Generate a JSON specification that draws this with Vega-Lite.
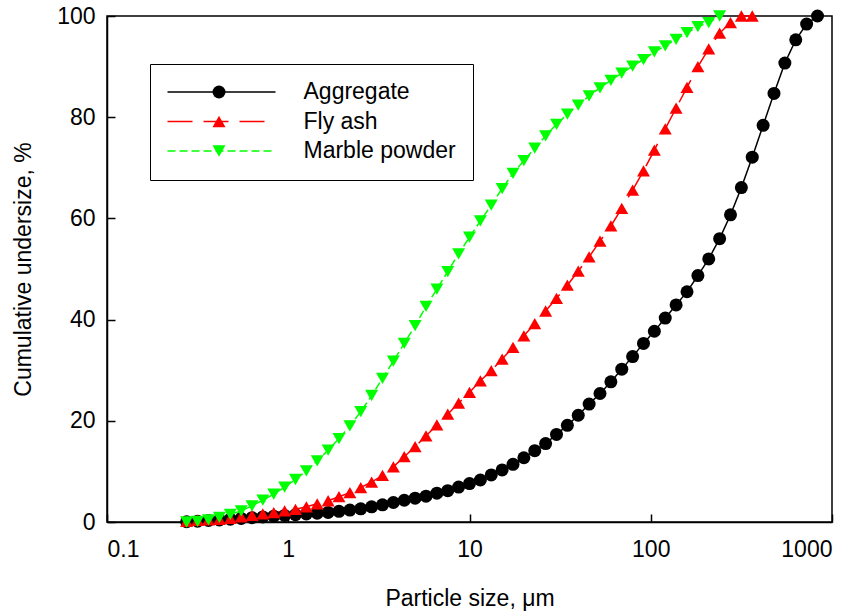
{
  "$schema": "https://vega.github.io/schema/vega-lite/v6.json",
  "width": 725,
  "height": 506,
  "autosize": {"type": "none"},
  "padding": {"left": 107, "top": 16, "right": 27, "bottom": 90},
  "background": "white",
  "config": {
    "font": "Liberation Sans",
    "view": {"stroke": "black", "strokeWidth": 1.5},
    "axis": {
      "domainColor": "black", "domainWidth": 1.5,
      "tickColor": "black", "tickWidth": 1.5,
      "grid": false,
      "labelFont": "Liberation Sans", "labelFontSize": 23, "labelColor": "black",
      "titleFont": "Liberation Sans", "titleFontSize": 23, "titleFontWeight": "normal", "titleColor": "black"
    },
    "legend": {"labelFont": "Liberation Sans", "labelFontSize": 23, "labelColor": "black"}
  },
  "data": {"values": [
    {"s":"Aggregate","d":0.275,"v":0.05},{"s":"Aggregate","d":0.316,"v":0.15},{"s":"Aggregate","d":0.363,"v":0.3},{"s":"Aggregate","d":0.417,"v":0.4},{"s":"Aggregate","d":0.479,"v":0.55},{"s":"Aggregate","d":0.55,"v":0.7},{"s":"Aggregate","d":0.631,"v":0.85},{"s":"Aggregate","d":0.724,"v":1.0},{"s":"Aggregate","d":0.832,"v":1.15},{"s":"Aggregate","d":0.955,"v":1.3},
    {"s":"Aggregate","d":1.096,"v":1.45},{"s":"Aggregate","d":1.259,"v":1.6},{"s":"Aggregate","d":1.445,"v":1.75},{"s":"Aggregate","d":1.66,"v":1.9},{"s":"Aggregate","d":1.905,"v":2.1},{"s":"Aggregate","d":2.188,"v":2.35},{"s":"Aggregate","d":2.512,"v":2.6},{"s":"Aggregate","d":2.884,"v":3.0},{"s":"Aggregate","d":3.311,"v":3.4},{"s":"Aggregate","d":3.802,"v":3.85},
    {"s":"Aggregate","d":4.365,"v":4.3},{"s":"Aggregate","d":5.012,"v":4.7},{"s":"Aggregate","d":5.754,"v":5.1},{"s":"Aggregate","d":6.607,"v":5.7},{"s":"Aggregate","d":7.586,"v":6.2},{"s":"Aggregate","d":8.71,"v":6.9},{"s":"Aggregate","d":10.0,"v":7.6},{"s":"Aggregate","d":11.48,"v":8.3},{"s":"Aggregate","d":13.18,"v":9.3},{"s":"Aggregate","d":15.14,"v":10.3},
    {"s":"Aggregate","d":17.38,"v":11.4},{"s":"Aggregate","d":19.95,"v":12.7},{"s":"Aggregate","d":22.91,"v":14.1},{"s":"Aggregate","d":26.3,"v":15.5},{"s":"Aggregate","d":30.2,"v":17.3},{"s":"Aggregate","d":34.67,"v":19.1},{"s":"Aggregate","d":39.81,"v":21.1},{"s":"Aggregate","d":45.71,"v":23.3},{"s":"Aggregate","d":52.48,"v":25.4},{"s":"Aggregate","d":60.26,"v":27.7},
    {"s":"Aggregate","d":69.18,"v":30.2},{"s":"Aggregate","d":79.43,"v":32.7},{"s":"Aggregate","d":91.2,"v":35.3},{"s":"Aggregate","d":104.7,"v":37.7},{"s":"Aggregate","d":120.2,"v":40.3},{"s":"Aggregate","d":138.0,"v":42.9},{"s":"Aggregate","d":158.5,"v":45.5},{"s":"Aggregate","d":182.0,"v":48.7},{"s":"Aggregate","d":208.9,"v":52.0},{"s":"Aggregate","d":239.9,"v":56.0},
    {"s":"Aggregate","d":275.4,"v":60.7},{"s":"Aggregate","d":316.2,"v":66.1},{"s":"Aggregate","d":363.1,"v":72.1},{"s":"Aggregate","d":416.9,"v":78.4},{"s":"Aggregate","d":478.6,"v":84.7},{"s":"Aggregate","d":549.5,"v":90.7},{"s":"Aggregate","d":631.0,"v":95.3},{"s":"Aggregate","d":724.4,"v":98.4},{"s":"Aggregate","d":831.8,"v":100},

    {"s":"Fly ash","d":0.275,"v":0.1},{"s":"Fly ash","d":0.316,"v":0.3},{"s":"Fly ash","d":0.363,"v":0.4},{"s":"Fly ash","d":0.417,"v":0.5},{"s":"Fly ash","d":0.479,"v":0.7},{"s":"Fly ash","d":0.55,"v":1.0},{"s":"Fly ash","d":0.631,"v":1.3},{"s":"Fly ash","d":0.724,"v":1.6},{"s":"Fly ash","d":0.832,"v":1.85},{"s":"Fly ash","d":0.955,"v":2.2},
    {"s":"Fly ash","d":1.096,"v":2.5},{"s":"Fly ash","d":1.259,"v":3.0},{"s":"Fly ash","d":1.445,"v":3.6},{"s":"Fly ash","d":1.66,"v":4.2},{"s":"Fly ash","d":1.905,"v":5.0},{"s":"Fly ash","d":2.188,"v":5.8},{"s":"Fly ash","d":2.512,"v":6.8},{"s":"Fly ash","d":2.884,"v":7.9},{"s":"Fly ash","d":3.311,"v":9.2},{"s":"Fly ash","d":3.802,"v":10.9},
    {"s":"Fly ash","d":4.365,"v":12.9},{"s":"Fly ash","d":5.012,"v":14.9},{"s":"Fly ash","d":5.754,"v":17.0},{"s":"Fly ash","d":6.607,"v":19.2},{"s":"Fly ash","d":7.586,"v":21.3},{"s":"Fly ash","d":8.71,"v":23.5},{"s":"Fly ash","d":10.0,"v":25.6},{"s":"Fly ash","d":11.48,"v":27.9},{"s":"Fly ash","d":13.18,"v":29.9},{"s":"Fly ash","d":15.14,"v":32.2},
    {"s":"Fly ash","d":17.38,"v":34.5},{"s":"Fly ash","d":19.95,"v":36.8},{"s":"Fly ash","d":22.91,"v":39.2},{"s":"Fly ash","d":26.3,"v":41.7},{"s":"Fly ash","d":30.2,"v":44.2},{"s":"Fly ash","d":34.67,"v":46.8},{"s":"Fly ash","d":39.81,"v":49.6},{"s":"Fly ash","d":45.71,"v":52.4},{"s":"Fly ash","d":52.48,"v":55.5},{"s":"Fly ash","d":60.26,"v":58.5},
    {"s":"Fly ash","d":69.18,"v":62.0},{"s":"Fly ash","d":79.43,"v":65.6},{"s":"Fly ash","d":91.2,"v":69.4},{"s":"Fly ash","d":104.7,"v":73.5},{"s":"Fly ash","d":120.2,"v":77.7},{"s":"Fly ash","d":138.0,"v":81.8},{"s":"Fly ash","d":158.5,"v":85.9},{"s":"Fly ash","d":182.0,"v":90.0},{"s":"Fly ash","d":208.9,"v":93.5},{"s":"Fly ash","d":239.9,"v":96.6},
    {"s":"Fly ash","d":275.4,"v":98.7},{"s":"Fly ash","d":316.2,"v":100},{"s":"Fly ash","d":363.1,"v":100},

    {"s":"Marble powder","d":0.275,"v":0.0},{"s":"Marble powder","d":0.316,"v":0.1},{"s":"Marble powder","d":0.363,"v":0.4},{"s":"Marble powder","d":0.417,"v":0.9},{"s":"Marble powder","d":0.479,"v":1.5},{"s":"Marble powder","d":0.55,"v":2.2},{"s":"Marble powder","d":0.631,"v":3.2},{"s":"Marble powder","d":0.724,"v":4.3},{"s":"Marble powder","d":0.832,"v":5.5},{"s":"Marble powder","d":0.955,"v":6.9},
    {"s":"Marble powder","d":1.096,"v":8.4},{"s":"Marble powder","d":1.259,"v":10.1},{"s":"Marble powder","d":1.445,"v":12.1},{"s":"Marble powder","d":1.66,"v":14.2},{"s":"Marble powder","d":1.905,"v":16.5},{"s":"Marble powder","d":2.188,"v":19.0},{"s":"Marble powder","d":2.512,"v":21.8},{"s":"Marble powder","d":2.884,"v":25.0},{"s":"Marble powder","d":3.311,"v":28.4},{"s":"Marble powder","d":3.802,"v":31.8},
    {"s":"Marble powder","d":4.365,"v":35.3},{"s":"Marble powder","d":5.012,"v":38.8},{"s":"Marble powder","d":5.754,"v":42.6},{"s":"Marble powder","d":6.607,"v":46.0},{"s":"Marble powder","d":7.586,"v":49.5},{"s":"Marble powder","d":8.71,"v":53.0},{"s":"Marble powder","d":10.0,"v":56.3},{"s":"Marble powder","d":11.48,"v":59.5},{"s":"Marble powder","d":13.18,"v":62.6},{"s":"Marble powder","d":15.14,"v":65.9},
    {"s":"Marble powder","d":17.38,"v":68.9},{"s":"Marble powder","d":19.95,"v":71.4},{"s":"Marble powder","d":22.91,"v":73.9},{"s":"Marble powder","d":26.3,"v":76.3},{"s":"Marble powder","d":30.2,"v":78.6},{"s":"Marble powder","d":34.67,"v":80.6},{"s":"Marble powder","d":39.81,"v":82.4},{"s":"Marble powder","d":45.71,"v":84.2},{"s":"Marble powder","d":52.48,"v":85.8},{"s":"Marble powder","d":60.26,"v":87.3},
    {"s":"Marble powder","d":69.18,"v":88.7},{"s":"Marble powder","d":79.43,"v":90.1},{"s":"Marble powder","d":91.2,"v":91.4},{"s":"Marble powder","d":104.7,"v":92.9},{"s":"Marble powder","d":120.2,"v":94.1},{"s":"Marble powder","d":138.0,"v":95.4},{"s":"Marble powder","d":158.5,"v":96.7},{"s":"Marble powder","d":182.0,"v":97.9},{"s":"Marble powder","d":208.9,"v":98.7},{"s":"Marble powder","d":239.9,"v":100}
  ]},
  "layer": [
    {
      "mark": {"type": "line", "strokeWidth": 1.5},
      "encoding": {
        "x": {"field": "d", "type": "quantitative",
              "scale": {"type": "log", "domain": [0.1, 1000]},
              "axis": {"values": [0.1, 1, 10, 100, 1000], "format": "~g", "tickSize": -8, "labelPadding": 24,
                       "title": "Particle size, μm", "titlePadding": 26}},
        "y": {"field": "v", "type": "quantitative",
              "scale": {"domain": [0, 100], "nice": false},
              "axis": {"values": [0, 20, 40, 60, 80, 100], "tickSize": -8, "labelPadding": 20,
                       "title": "Cumulative undersize, %", "titlePadding": 21}},
        "stroke": {"field": "s", "type": "nominal",
                   "scale": {"range": ["#000000", "#ff0000", "#00ff00"]},
                   "legend": {"orient": "none", "legendX": 43, "legendY": 48, "title": null, "padding": 16.5, "rowPadding": 5.5,
                              "clipHeight": 23, "labelOffset": 27, "symbolSize": 11664, "symbolStrokeWidth": 1.5, "symbolType": "stroke",
                              "strokeColor": "black", "zindex": 0}},
        "strokeDash": {"field": "s", "type": "nominal",
                       "scale": {"range": [[1, 0], [25, 11], [8, 4]]},
                       "legend": {"orient": "none", "legendX": 43, "legendY": 48, "title": null, "padding": 16.5, "rowPadding": 5.5,
                                  "clipHeight": 23, "labelOffset": 27, "symbolSize": 11664, "symbolStrokeWidth": 1.5, "symbolType": "stroke",
                                  "strokeColor": "black", "zindex": 0}}
      }
    },
    {
      "mark": {"type": "point", "filled": true, "opacity": 1, "strokeWidth": 0, "size": 169},
      "encoding": {
        "x": {"field": "d", "type": "quantitative", "scale": {"type": "log", "domain": [0.1, 1000]}},
        "y": {"field": "v", "type": "quantitative", "scale": {"domain": [0, 100], "nice": false}},
        "fill": {"field": "s", "type": "nominal",
                 "scale": {"domain": ["Aggregate", "Fly ash", "Marble powder"], "range": ["#000000", "#ff0000", "#00ff00"]},
                 "legend": {"orient": "top-left", "offset": 48, "title": null, "padding": 16.5, "rowPadding": 5.5,
                            "clipHeight": 23, "symbolOffset": 36, "symbolSize": 169, "labelExpr": "''",
                            "symbolStrokeColor": "black", "symbolStrokeWidth": 1.2, "zindex": 2}},
        "shape": {"field": "s", "type": "nominal",
                  "scale": {"domain": ["Aggregate", "Fly ash", "Marble powder"], "range": ["circle", "triangle-up", "triangle-down"]},
                  "legend": {"orient": "top-left", "offset": 48, "title": null, "padding": 16.5, "rowPadding": 5.5,
                             "clipHeight": 23, "symbolOffset": 36, "symbolSize": 169, "labelExpr": "''",
                             "symbolStrokeColor": "black", "symbolStrokeWidth": 1.2, "zindex": 2}}
      }
    }
  ]
}
